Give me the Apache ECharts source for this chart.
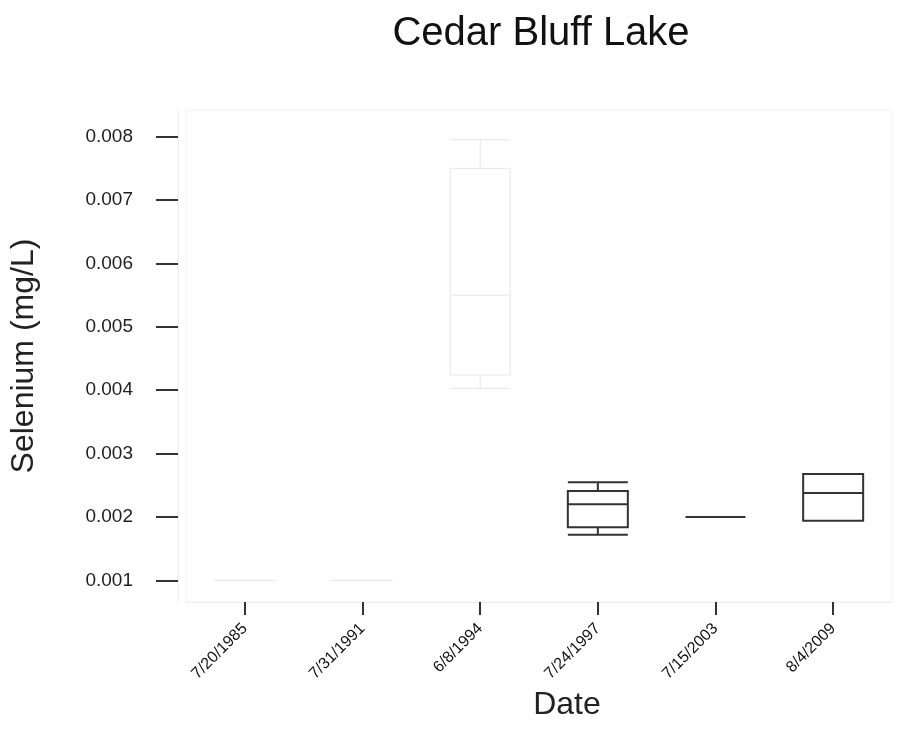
<!DOCTYPE html>
<html>
<head>
<meta charset="utf-8">
<script src="https://cdn.jsdelivr.net/npm/echarts@6/dist/echarts.min.js"></script>
<style>
html,body{margin:0;padding:0;background:#fff;}
#chart{width:897px;height:729px;}
</style>
</head>
<body>
<div id="chart"></div>
<script>
// ---- data ----
var dates = ["7/20/1985", "7/31/1991", "6/8/1994", "7/24/1997", "7/15/2003", "8/4/2009"];
// [min, Q1, median, Q3, max] in mg/L
var boxMin    = [0.001, 0.001, 0.00403, 0.00172, 0.002, 0.00194];
var boxQ1     = [0.001, 0.001, 0.00424, 0.00184, 0.002, 0.00194];
var boxMedian = [0.001, 0.001, 0.0055,  0.0022,  0.002, 0.00238];
var boxQ3     = [0.001, 0.001, 0.0075,  0.00241, 0.002, 0.00268];
var boxMax    = [0.001, 0.001, 0.00795, 0.00255, 0.002, 0.00268];
var yTicks = [0.001, 0.002, 0.003, 0.004, 0.005, 0.006, 0.007, 0.008];

// ---- styling (kept apart from data) ----
var darkBox = [false, false, false, true, true, true];
var FONT = "Liberation Sans, Arial, sans-serif";

var boxData = dates.map(function (d, i) {
  return {
    value: [boxMin[i], boxQ1[i], boxMedian[i], boxQ3[i], boxMax[i]],
    itemStyle: darkBox[i]
      ? { color: "#fff", borderColor: "#333", borderWidth: 2 }
      : { color: "#fff", borderColor: "#e6e6e6", borderWidth: 1 }
  };
});

var chart = echarts.init(document.getElementById("chart"), null, { renderer: "canvas" });
chart.setOption({
  animation: false,
  backgroundColor: "#fff",
  title: {
    text: "Cedar Bluff Lake",
    left: 536,
    top: 9,
    textAlign: "center",
    textStyle: { fontFamily: FONT, fontSize: 40, fontWeight: "normal", color: "#111" }
  },
  grid: {
    left: 186, right: 5, top: 110, bottom: 127,
    show: true, borderColor: "#f2f2f2", borderWidth: 1,
    containLabel: false
  },
  xAxis: {
    type: "category",
    data: dates,
    name: "Date",
    nameLocation: "middle",
    nameGap: 80,
    nameTextStyle: { fontFamily: FONT, fontSize: 32, color: "#222", padding: [0, 0, 0, 56] },
    axisLine: { show: true, lineStyle: { color: "#eeeeee", width: 1 } },
    axisTick: { show: true, alignWithLabel: true, interval: 0, length: 13, lineStyle: { color: "#333", width: 2 } },
    axisLabel: { interval: 0, rotate: 45, margin: 24, fontFamily: FONT, fontSize: 16, color: "#111" },
    splitLine: { show: false }
  },
  yAxis: {
    type: "value",
    min: 0.00066,
    max: 0.00842,
    offset: 8,
    name: "Selenium (mg/L)",
    nameLocation: "middle",
    nameRotate: 90,
    nameGap: 138,
    nameTextStyle: { fontFamily: FONT, fontSize: 32, color: "#222" },
    axisLine: { show: true, lineStyle: { color: "#eeeeee", width: 1 } },
    axisTick: { show: true, length: 22, customValues: yTicks, lineStyle: { color: "#333", width: 2 } },
    axisLabel: {
      customValues: yTicks,
      margin: 45,
      fontFamily: FONT, fontSize: 19, color: "#222",
      formatter: function (v) { return v.toFixed(3); }
    },
    splitLine: { show: false }
  },
  series: [{
    type: "boxplot",
    data: boxData,
    boxWidth: [60, 60]
  }]
});
</script>
</body>
</html>
